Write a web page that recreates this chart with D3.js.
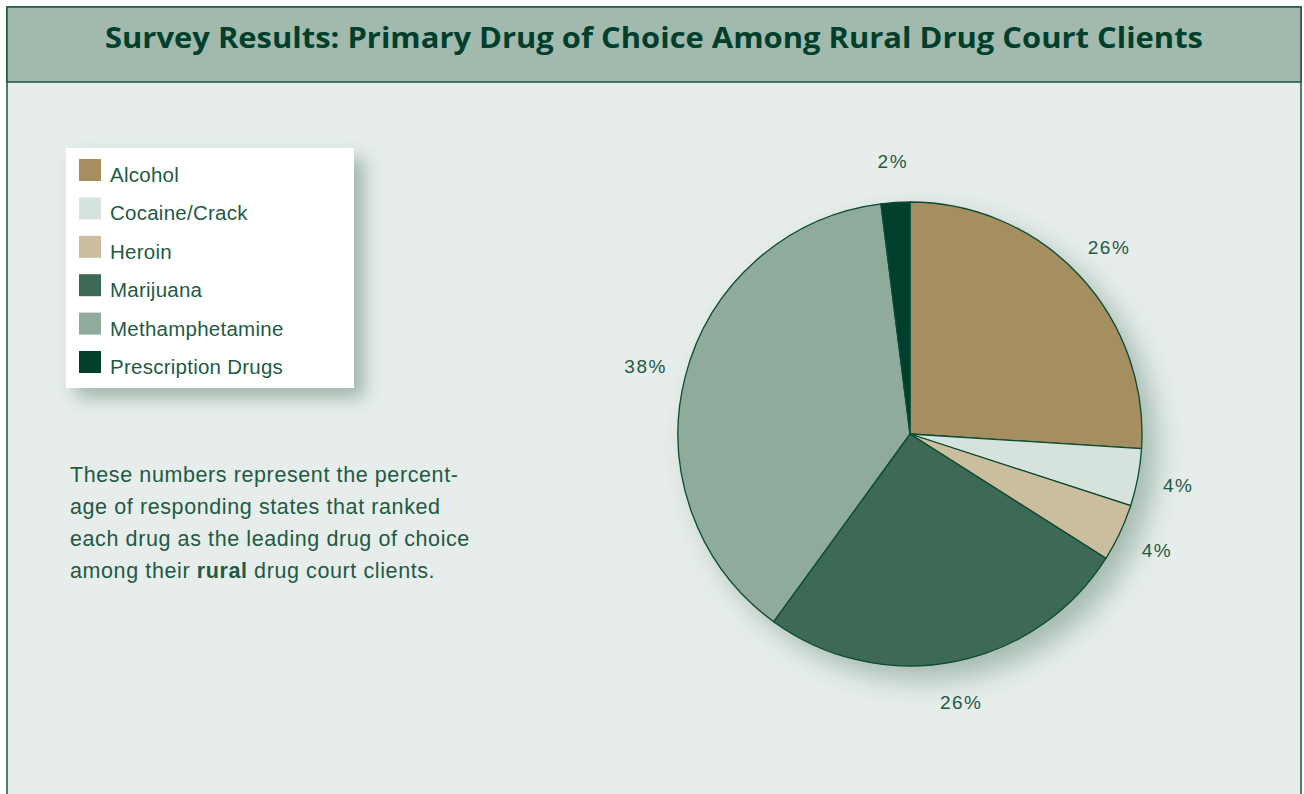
<!DOCTYPE html>
<html><head><meta charset="utf-8">
<script src="https://cdn.jsdelivr.net/npm/d3@7"></script>
<style>
html,body{margin:0;padding:0;background:#ffffff;}
svg{display:block;}
</style></head>
<body>
<svg id="chart" width="1304" height="794"></svg>
<script>
const categories = ["Alcohol","Cocaine/Crack","Heroin","Marijuana","Methamphetamine","Prescription Drugs"];
const values = [26, 4, 4, 26, 38, 2];
const colors = ["#a58f60","#d6e3dc","#cbbe9f","#3c6a57","#8eab9c","#003f2b"];
const title = "Survey Results: Primary Drug of Choice Among Rural Drug Court Clients";
const noteLines = [
  [{t:"These numbers represent the percent-"}],
  [{t:"age of responding states that ranked"}],
  [{t:"each drug as the leading drug of choice"}],
  [{t:"among their "},{t:"rural",b:true},{t:" drug court clients."}]
];

const svg = d3.select("#chart");
const defs = svg.append("defs");
function shadow(id, blur, dx, dy, op){
  const sh = defs.append("filter").attr("id",id).attr("x","-30%").attr("y","-30%").attr("width","170%").attr("height","170%");
  sh.append("feGaussianBlur").attr("in","SourceAlpha").attr("stdDeviation",blur).attr("result","b");
  sh.append("feOffset").attr("in","b").attr("dx",dx).attr("dy",dy).attr("result","o");
  sh.append("feFlood").attr("flood-color","#86a496").attr("flood-opacity",op).attr("result","c");
  sh.append("feComposite").attr("in","c").attr("in2","o").attr("operator","in").attr("result","s");
  const m = sh.append("feMerge"); m.append("feMergeNode").attr("in","s"); m.append("feMergeNode").attr("in","SourceGraphic");
}
shadow("lshadow", 9, 10, 10, 0.75);
shadow("pshadow", 14, 14, 14, 0.7);

// frame
svg.append("rect").attr("x",7).attr("y",7).attr("width",1294).attr("height",800)
  .attr("fill","#e6edea").attr("stroke","#1d5440").attr("stroke-width",1.5);
svg.append("rect").attr("x",7).attr("y",7).attr("width",1294).attr("height",75)
  .attr("fill","#a2b9ae").attr("stroke","#1d5440").attr("stroke-width",1.5);
svg.append("text").attr("x",654).attr("y",48).attr("text-anchor","middle")
  .attr("font-family","'Open Sans', sans-serif").attr("font-weight","bold")
  .attr("font-size",28.5).attr("fill","#003f2b")
  .attr("textLength",1098).attr("lengthAdjust","spacingAndGlyphs").text(title);

// legend
const lg = svg.append("g");
lg.append("rect").attr("x",66).attr("y",148).attr("width",288).attr("height",240)
  .attr("fill","#ffffff").attr("filter","url(#lshadow)");
const ly = d3.scalePoint().domain(categories).range([159, 351]);
const items = lg.selectAll("g.it").data(categories).join("g").attr("class","it");
items.append("rect").attr("x",79).attr("y",d=>ly(d)).attr("width",22).attr("height",22)
  .attr("fill",(d,i)=>colors[i]);
items.append("text").attr("x",110).attr("y",d=>ly(d)+23)
  .attr("font-family","'Liberation Sans', Arial, sans-serif").attr("font-size",20.5)
  .attr("letter-spacing",0.25).attr("fill","#1f5a45").text(d=>d);

// note
const nt = svg.append("g");
noteLines.forEach((line,i)=>{
  const t = nt.append("text").attr("x",70).attr("y",482+i*32)
    .attr("font-family","'Liberation Sans', Arial, sans-serif").attr("font-size",21.5)
    .attr("letter-spacing",0.6).attr("fill","#1f5a45");
  line.forEach(s=>t.append("tspan").attr("font-weight",s.b?"bold":"normal").text(s.t));
});

// pie
const cx = 910, cy = 434, r = 232;
const pie = d3.pie().sort(null).value(d=>d.v);
const data = pie(categories.map((c,i)=>({c, v:values[i], col:colors[i]})));
const arc = d3.arc().innerRadius(0).outerRadius(r);
const labelArc = d3.arc().innerRadius(273).outerRadius(273);
const pg = svg.append("g").attr("transform",`translate(${cx},${cy})`);
pg.append("circle").attr("r",r).attr("fill","#8eab9c").attr("filter","url(#pshadow)");
pg.selectAll("path").data(data).join("path").attr("d",arc)
  .attr("fill",d=>d.data.col).attr("stroke","#0b4a33").attr("stroke-width",1.3).attr("stroke-linejoin","round");
pg.selectAll("text.lab").data(data).join("text").attr("class","lab")
  .attr("transform",d=>`translate(${labelArc.centroid(d)})`)
  .attr("text-anchor","middle").attr("dy","0.35em")
  .attr("font-family","'Liberation Sans', Arial, sans-serif").attr("font-size",19)
  .attr("letter-spacing",1.5).attr("fill","#1f5a45")
  .text(d=>d.data.v+"%");
</script>
</body></html>
